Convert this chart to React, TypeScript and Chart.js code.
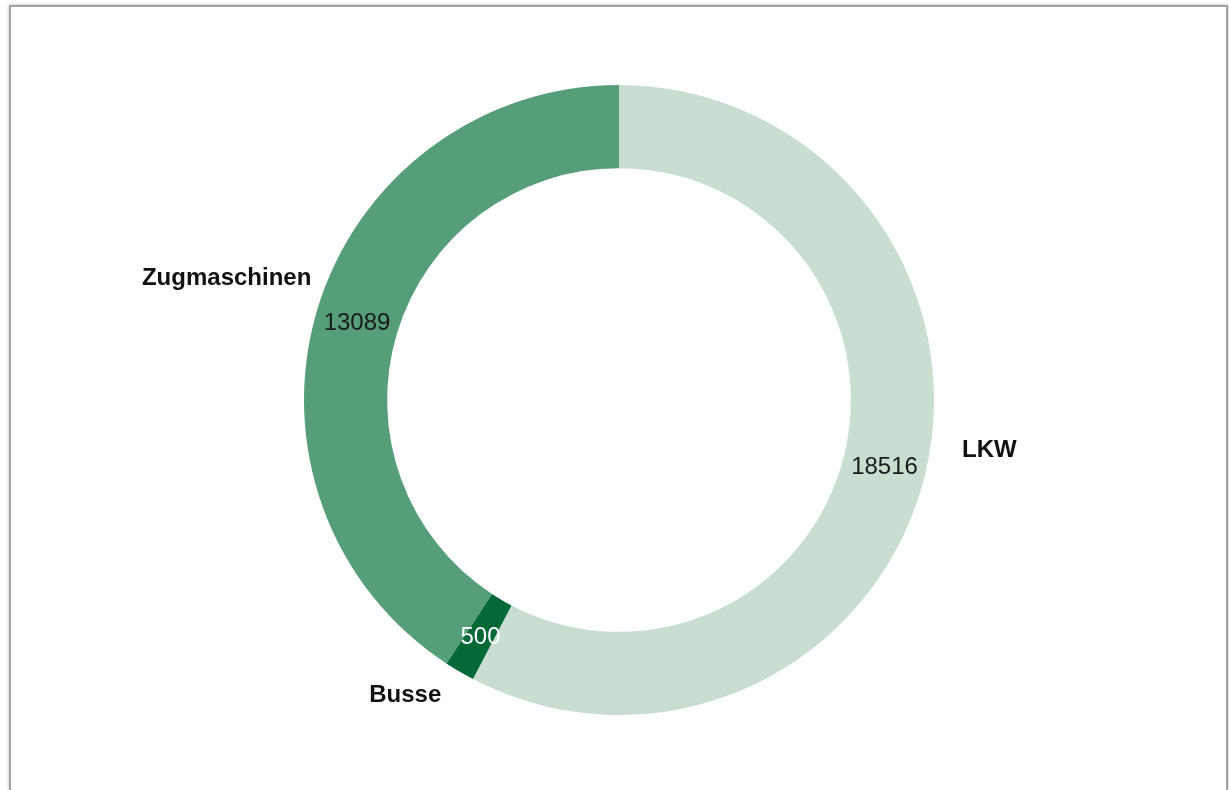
import React, { useEffect, useRef } from "react";
import { Chart, registerables } from "chart.js";

Chart.register(...registerables);

const categories = ["LKW", "Busse", "Zugmaschinen"];
const values = [18516, 500, 13089];
const colors = ["#c9ded1", "#006937", "#569e7a"];
const valueTextColors = ["#1a1a1a", "#ffffff", "#1a1a1a"];

const labelPlugin = {
  id: "ringLabels",
  afterDatasetsDraw(chart: any, _args: any, opts: any) {
    const ctx = chart.ctx;
    const meta = chart.getDatasetMeta(0);
    const nudges = opts.nudges || [];
    ctx.save();
    meta.data.forEach((arc: any, i: number) => {
      const p = arc.getProps(["x", "y", "startAngle", "endAngle", "innerRadius", "outerRadius"], true);
      const mid = (p.startAngle + p.endAngle) / 2;
      const rMid = (p.innerRadius + p.outerRadius) / 2;
      // value label
      ctx.font = "24px 'Liberation Sans', Arial, sans-serif";
      ctx.textAlign = "center";
      ctx.textBaseline = "middle";
      ctx.fillStyle = valueTextColors[i];
      ctx.fillText(String(values[i]), p.x + rMid * Math.cos(mid), p.y + rMid * Math.sin(mid) + 2);
      // category label
      const rOut = p.outerRadius + 28;
      const n = nudges[i] || [0, 0];
      const cx = p.x + rOut * Math.cos(mid) + n[0];
      const cy = p.y + rOut * Math.sin(mid) + n[1];
      ctx.font = "bold 24px 'Liberation Sans', Arial, sans-serif";
      ctx.textAlign = Math.cos(mid) >= 0 ? "left" : "right";
      ctx.fillStyle = "#111111";
      ctx.fillText(categories[i], cx, cy);
    });
    ctx.restore();
  },
};

export default function App() {
  const canvasRef = useRef<HTMLCanvasElement>(null);

  useEffect(() => {
    const chart = new Chart(canvasRef.current as HTMLCanvasElement, {
      type: "doughnut",
      data: {
        labels: categories,
        datasets: [
          {
            data: values,
            backgroundColor: colors,
            borderWidth: 0,
          },
        ],
      },
      options: {
        animation: false,
        responsive: false,
        maintainAspectRatio: false,
        cutout: "73.6%",
        layout: { padding: { left: 10, right: 1, top: 85, bottom: 75 } },
        plugins: {
          legend: { display: false },
          tooltip: { enabled: false },
          ringLabels: { nudges: [[10, -32], [-4, 0], [21, -24]] },
        } as any,
      },
      plugins: [labelPlugin],
    });
    return () => chart.destroy();
  }, []);

  return (
    <div>
      <div
        style={{
          position: "absolute",
          left: 9,
          top: 5,
          width: 1219,
          height: 785,
          boxSizing: "border-box",
          border: "2px solid #a3a3a3",
          borderBottom: "none",
          boxShadow: "0 0 3px rgba(0,0,0,0.3)",
          background: "#ffffff",
        }}
      />
      <canvas
        ref={canvasRef}
        width={1229}
        height={790}
        style={{ position: "absolute", left: 0, top: 0, width: 1229, height: 790 }}
      />
    </div>
  );
}
